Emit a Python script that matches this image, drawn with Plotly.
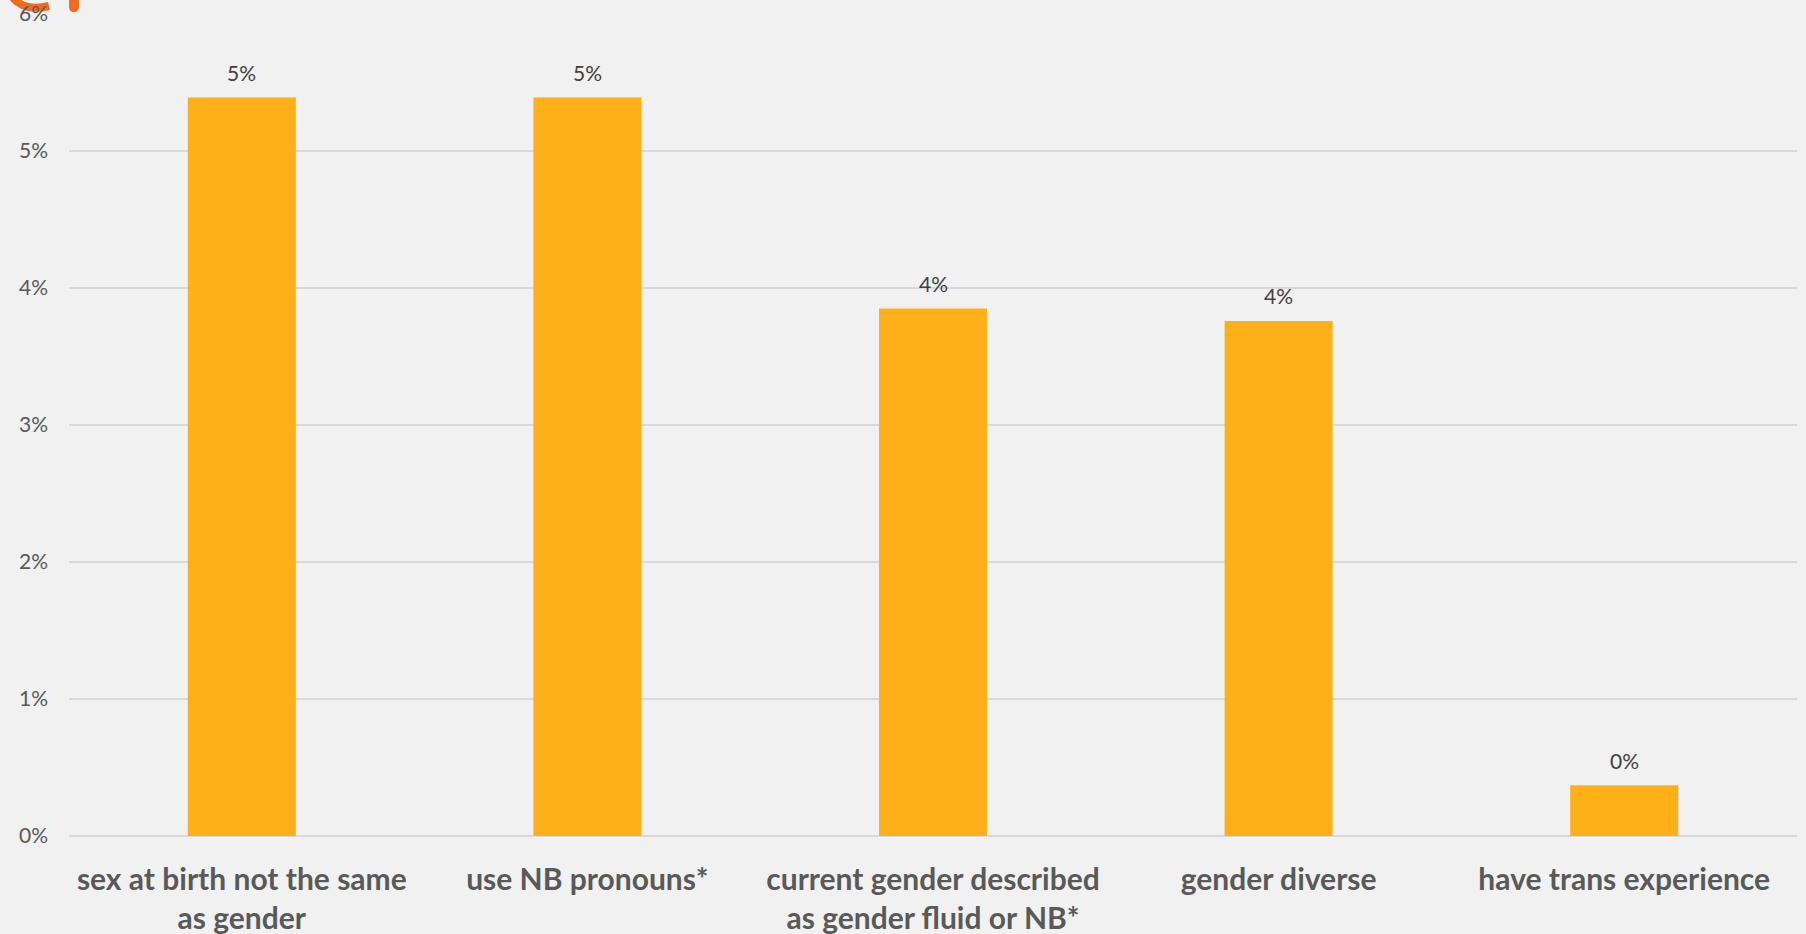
import plotly.graph_objects as go

categories = [
    "sex at birth not the same<br>as gender",
    "use NB pronouns*",
    "current gender described<br>as gender fluid or NB*",
    "gender diverse",
    "have trans experience",
]
values = [5.39, 5.39, 3.85, 3.76, 0.37]
value_labels = ["5%", "5%", "4%", "4%", "0%"]
tick_vals = [0, 1, 2, 3, 4, 5, 6]
tick_text = ["0%", "1%", "2%", "3%", "4%", "5%", "6%"]

BG = "#F1F1F1"
BAR = "#FDB018"
GRID = "#D9D9D9"
FONT = "Lato, Carlito, Calibri, sans-serif"

fig = go.Figure(
    go.Bar(
        x=categories,
        y=values,
        marker=dict(color=BAR, line=dict(width=0)),
        width=0.3125,
        hoverinfo="skip",
    )
)

for c, v, t in zip(categories, values, value_labels):
    fig.add_annotation(
        x=c, y=v, text=t, showarrow=False, yanchor="middle", yshift=25,
        font=dict(family=FONT, size=21, color="#404040"),
    )

# logo fragment in top-left corner (pixel-sized shapes anchored to paper)
fig.add_shape(
    type="path", xref="paper", yref="paper", xsizemode="pixel", ysizemode="pixel",
    xanchor=0, yanchor=1,
    path="M -56,16 Q -44,2 -20,8",
    line=dict(color="#F26B22", width=8), fillcolor="rgba(0,0,0,0)", layer="below",
)
fig.add_shape(
    type="path", xref="paper", yref="paper", xsizemode="pixel", ysizemode="pixel",
    xanchor=0, yanchor=1,
    path="M 0,16 L 10,16 L 10,7 Q 10,2 5,2 Q 0,2 0,7 Z",
    line=dict(width=0), fillcolor="#F26B22", layer="below",
)

fig.update_layout(
    width=1806, height=934,
    margin=dict(l=69, r=9, t=14, b=98, autoexpand=False),
    paper_bgcolor=BG, plot_bgcolor=BG,
    showlegend=False,
    font=dict(family=FONT, color="#595959"),
    bargap=0.6875,
    xaxis=dict(
        showgrid=False, showline=False, zeroline=False, automargin=False,
        tickfont=dict(family=FONT, size=30, color="#595959", weight="bold"),
        ticks="", ticklabelstandoff=23, fixedrange=True,
    ),
    yaxis=dict(
        range=[0, 6], tickvals=tick_vals, ticktext=tick_text, automargin=False,
        showgrid=True, gridcolor=GRID, gridwidth=2,
        zeroline=True, zerolinecolor=GRID, zerolinewidth=2,
        showline=False, ticks="", ticklabelstandoff=20,
        tickfont=dict(family=FONT, size=21, color="#595959"),
        fixedrange=True,
    ),
)

fig.write_html("out.html")
